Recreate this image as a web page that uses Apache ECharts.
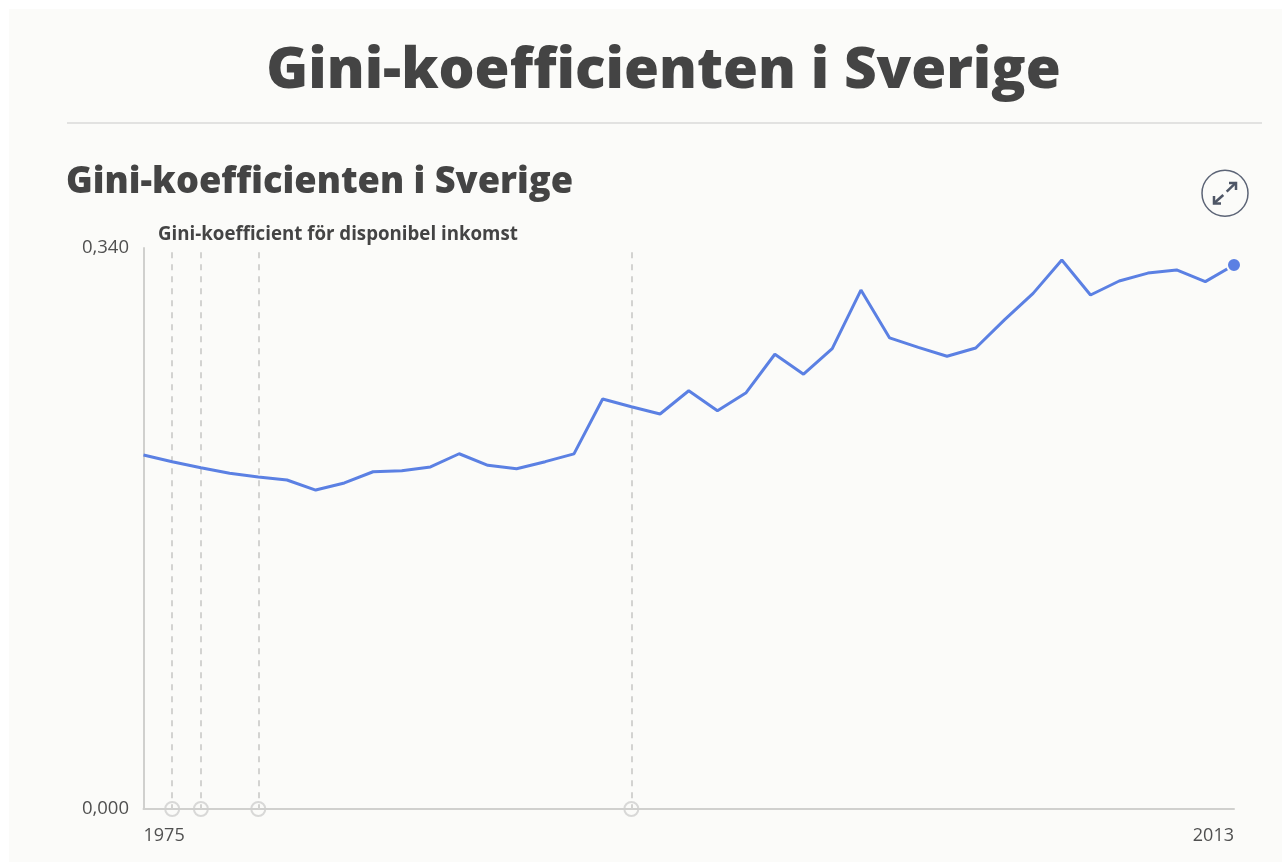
<!DOCTYPE html>
<html><head><meta charset="utf-8">
<style>html,body{margin:0;padding:0;background:#fff}#c{width:1282px;height:862px}</style>
<script src="https://cdn.jsdelivr.net/npm/echarts@6/dist/echarts.min.js"></script>
</head><body><div id="c"></div>
<script>
const pageTitle = "Gini-koefficienten i Sverige";
const chartTitle = "Gini-koefficienten i Sverige";
const seriesName = "Gini-koefficient för disponibel inkomst";
const years = [1975,1976,1977,1978,1979,1980,1981,1982,1983,1984,1985,1986,1987,1988,1989,1990,1991,1992,1993,1994,1995,1996,1997,1998,1999,2000,2001,2002,2003,2004,2005,2006,2007,2008,2009,2010,2011,2012,2013];
const gini = [.2145,.2105,.2068,.2035,.2012,.1994,.1933,.1976,.2044,.2050,.2073,.2153,.2083,.2062,.2105,.2152,.2485,.2438,.2394,.2535,.2414,.2523,.2756,.2635,.2790,.3145,.2855,.2798,.2744,.2794,.2964,.3125,.3327,.3115,.3200,.3248,.3267,.3196,.3297];
const eventYears = [1976,1977,1979,1992];
const eventTop = 0.3375;
const yMax = 0.34;
const ink = "#444444", bg = "#fbfbf9", blue = "#5b80e3", grey = "#d0d0ce";
const font = "Open Sans";
const chart = echarts.init(document.getElementById("c"), null, {renderer:"canvas"});
chart.setOption({
  animation:false,
  title:[
    {text:pageTitle,left:658.5,top:38,textAlign:"center",textStyle:{fontFamily:font,fontWeight:800,fontSize:56.7,color:ink}},
    {text:chartTitle,left:61,top:160,textStyle:{fontFamily:font,fontWeight:800,fontSize:36.2,color:ink}},
    {text:seriesName,left:153,top:220,textStyle:{fontFamily:font,fontWeight:700,fontSize:18.7,color:ink}}
  ],
  grid:{left:143.5,right:48,top:248,bottom:53},
  xAxis:{type:"value",min:1975,max:2013,interval:38,splitLine:{show:false},
    axisLine:{show:true,onZero:false,lineStyle:{color:grey,width:2}},axisTick:{show:false},
    axisLabel:{margin:18,fontFamily:font,fontSize:18,color:"#505050",alignMinLabel:"left",alignMaxLabel:"right",formatter:v=>String(v)}},
  yAxis:{type:"value",min:0,max:yMax,interval:yMax,splitLine:{show:false},
    axisLine:{show:true,lineStyle:{color:grey,width:2}},axisTick:{show:false},
    axisLabel:{margin:14.5,padding:[5,0,0,0],fontFamily:font,fontSize:18.5,color:"#505050",formatter:v=>v.toFixed(3).replace(".",",")}},
  series:[
    {type:"scatter",silent:true,z:3,symbol:"circle",symbolSize:14,
     itemStyle:{color:"rgba(0,0,0,0)",borderColor:grey,borderWidth:2},
     data:eventYears.map(y=>[y,0]),
     markLine:{silent:true,symbol:"none",label:{show:false},
       lineStyle:{color:"#d3d3d1",type:[6,6],width:2},
       data:eventYears.map(y=>[{coord:[y,eventTop]},{coord:[y,0]}])}},
    {type:"line",z:5,silent:true,showAllSymbol:true,symbol:"circle",
     symbolSize:(v,p)=>p.dataIndex===years.length-1?14:0,
     lineStyle:{color:blue,width:3},
     itemStyle:{color:blue,borderColor:bg,borderWidth:2},
     data:years.map((y,i)=>[y,gini[i]])}
  ],
  graphic:[
    {type:"rect",z:-10,shape:{x:9,y:9,width:1273,height:853},style:{fill:bg}},
    {type:"line",z:-5,shape:{x1:67,y1:123,x2:1262,y2:123},style:{stroke:"#dadad8",lineWidth:1.5}},
    {type:"circle",shape:{cx:1225,cy:193.3,r:23},style:{fill:"none",stroke:"#5c6476",lineWidth:1.5}},
    {type:"polyline",shape:{points:[[1226.7,191.7],[1236,182.7]]},style:{stroke:"#4e5666",lineWidth:2.5,fill:"none"}},
    {type:"polyline",shape:{points:[[1229,183],[1236,183],[1236,190]]},style:{stroke:"#4e5666",lineWidth:2.5,fill:"none"}},
    {type:"polyline",shape:{points:[[1223.3,195],[1214,203.3]]},style:{stroke:"#4e5666",lineWidth:2.5,fill:"none"}},
    {type:"polyline",shape:{points:[[1214,196],[1214,203.5],[1221,203.5]]},style:{stroke:"#4e5666",lineWidth:2.5,fill:"none"}}
  ]
});
</script></body></html>
